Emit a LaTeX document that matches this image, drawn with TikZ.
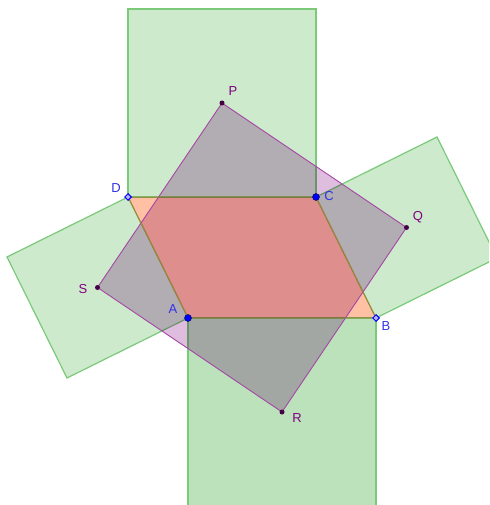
\documentclass[tikz,border=0pt]{standalone}
\usepackage{fontspec}
\setmainfont{Liberation Sans}
\definecolor{sqfill}{RGB}{205,234,205}
\definecolor{sqfilldark}{RGB}{188,226,188}
\definecolor{sqedge}{RGB}{122,202,122}
\definecolor{pufill}{RGB}{222,189,222}
\definecolor{puedge}{RGB}{165,70,165}
\definecolor{orfill}{RGB}{255,192,163}
\definecolor{oredge}{RGB}{165,135,55}
\definecolor{ptblue}{RGB}{0,0,255}
\definecolor{lblblue}{RGB}{50,50,230}
\definecolor{lblpurple}{RGB}{128,0,128}
\definecolor{ptpurple}{RGB}{70,0,70}
\tikzset{
  greensq/.style={fill=sqfill, draw=sqedge, line width=1.2pt, line join=miter},
  purplesq/.style={fill=pufill, blend mode=multiply},
  paral/.style={fill=orfill, blend mode=multiply},
  bigdot/.style={circle, fill=ptblue, draw=black!70!blue, line width=0.4pt, inner sep=0pt, minimum size=7pt},
  diam/.style={diamond, draw=ptblue, fill=white!70!ptblue, line width=1pt, inner sep=0pt, minimum size=7pt},
  smalldot/.style={circle, fill=ptpurple, inner sep=0pt, minimum size=5pt},
  lblb/.style={text=lblblue, font=\fontsize{13}{15}\selectfont, inner sep=0pt},
  lblp/.style={text=lblpurple, font=\fontsize{13}{15}\selectfont, inner sep=0pt}
}
\usetikzlibrary{shapes.geometric}
\begin{document}
\begin{tikzpicture}[x=1pt,y=-1pt]
\useasboundingbox (0,0) rectangle (489,505);
\clip (0,0) rectangle (489,505);
% base points
\coordinate (A) at (188,318);
\coordinate (B) at (376,318);
\coordinate (C) at (316,197);
\coordinate (D) at (128,197);
% square vertices
\coordinate (T1) at (316,9);
\coordinate (T2) at (128,9);
\coordinate (B1) at (376,506);
\coordinate (B2) at (188,506);
\coordinate (R1) at (437,137);
\coordinate (R2) at (497,258);
\coordinate (L1) at (7,257);
\coordinate (L2) at (67,378);
% centres
\coordinate (P) at (222,103);
\coordinate (Q) at (406.5,227.5);
\coordinate (R) at (282,412);
\coordinate (S) at (97.5,287.5);
% green squares
\draw[greensq] (D) -- (C) -- (T1) -- (T2) -- cycle;
\draw[greensq] (B) -- (C) -- (R1) -- (R2) -- cycle;
\draw[greensq] (A) -- (D) -- (L1) -- (L2) -- cycle;
\draw[greensq, fill=sqfilldark] (A) -- (B) -- (B1) -- (B2) -- cycle;
% purple square
\fill[purplesq] (P) -- (Q) -- (R) -- (S) -- cycle;
% parallelogram
\fill[paral] (A) -- (B) -- (C) -- (D) -- cycle;
% outlines
\draw[puedge, line width=0.9pt, line join=miter] (P) -- (Q) -- (R) -- (S) -- cycle;
\draw[oredge, line width=0.9pt] (A) -- (B) -- (C) -- (D) -- cycle;
% points
\node[bigdot] (nA) at (A) {};
\node[bigdot] (nC) at (C) {};
\node[diam] (nB) at (B) {};
\node[diam] (nD) at (D) {};
\node[smalldot] (nP) at (P) {};
\node[smalldot] (nQ) at (Q) {};
\node[smalldot] (nR) at (R) {};
\node[smalldot] (nS) at (S) {};
% labels
\node[lblb] (tA) at (173,309) {A};
\node[lblb] (tB) at (386,326) {B};
\node[lblb] (tC) at (329,196) {C};
\node[lblb] (tD) at (116,188) {D};
\node[lblp] (tP) at (233,91) {P};
\node[lblp] (tQ) at (418,217) {Q};
\node[lblp] (tR) at (297,418) {R};
\node[lblp] (tS) at (83,289) {S};
\end{tikzpicture}
\end{document}
